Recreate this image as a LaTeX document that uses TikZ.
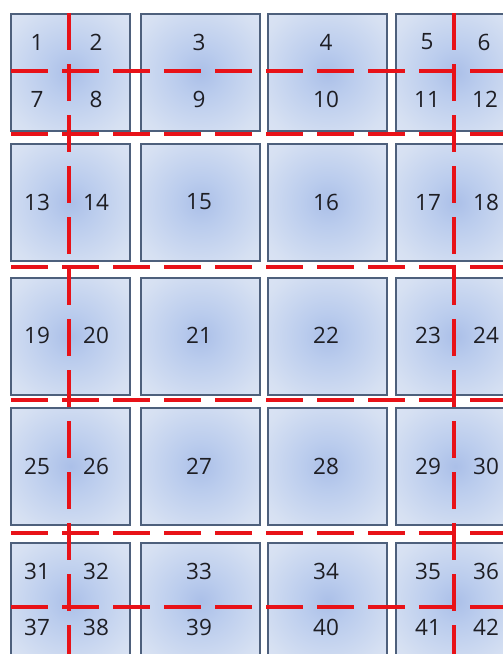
\documentclass[tikz,border=0pt]{standalone}
\usepackage{fontspec}
\setmainfont{Open Sans}
\pgfdeclareradialshading{boxshade}{\pgfpoint{0bp}{0bp}}{rgb(0bp)=(0.67,0.75,0.91); rgb(10bp)=(0.73,0.80,0.93); rgb(30bp)=(0.84,0.88,0.95); rgb(50bp)=(0.90,0.92,0.97)}
\definecolor{boxedge}{RGB}{78,96,124}
\definecolor{cutred}{RGB}{232,18,24}
\definecolor{numcol}{RGB}{30,30,36}
\tikzset{
  tile/.style={rectangle, draw=boxedge, line width=1.8pt, shading=boxshade, minimum width=119pt, minimum height=117pt, inner sep=0pt, anchor=north west},
  num/.style={font=\fontsize{22.5}{26}\selectfont, text=numcol, inner sep=0pt},
  cut/.style={draw=cutred, line width=4pt, dash pattern=on 36.5pt off 14.5pt}
}
\begin{document}
\begin{tikzpicture}[x=1pt,y=-1pt]
\clip (0,0) rectangle (503,654);
\fill[white] (0,0) rectangle (503,654);
% tiles
\foreach \r/\ty in {1/13,2/143,3/277,4/407,5/542}{
  \foreach \c/\tx in {1/10,2/140,3/267,4/395}{
    \node[tile] (t\r\c) at (\tx,\ty) {};
  }
}
% numbers row 1
\node[num] (n1) at (37,42) {1};
\node[num] (n2) at (96,42) {2};
\node[num] (n3) at (199,42) {3};
\node[num] (n4) at (326,42) {4};
\node[num] (n5) at (427,42) {5};
\node[num] (n6) at (484,42) {6};
\node[num] (n7) at (37,99) {7};
\node[num] (n8) at (96,99) {8};
\node[num] (n9) at (199,99) {9};
\node[num] (n10) at (326,99) {10};
\node[num] (n11) at (427,99) {11};
\node[num] (n12) at (485,99) {12};
% rows 2-4
\foreach \y/\a/\b/\c/\d/\e/\f in {202/13/14/15/16/17/18, 335/19/20/21/22/23/24, 466/25/26/27/28/29/30}{
  \node[num] (n\a) at (37,\y) {\a};
  \node[num] (n\b) at (96,\y) {\b};
  \node[num] (n\c) at (199,\y) {\c};
  \node[num] (n\d) at (326,\y) {\d};
  \node[num] (n\e) at (428,\y) {\e};
  \node[num] (n\f) at (486,\y) {\f};
}
% row 5
\node[num] (n31) at (37,571) {31};
\node[num] (n32) at (96,571) {32};
\node[num] (n33) at (199,571) {33};
\node[num] (n34) at (326,571) {34};
\node[num] (n35) at (428,571) {35};
\node[num] (n36) at (486,571) {36};
\node[num] (n37) at (37,627) {37};
\node[num] (n38) at (96,627) {38};
\node[num] (n39) at (199,627) {39};
\node[num] (n40) at (326,627) {40};
\node[num] (n41) at (428,627) {41};
\node[num] (n42) at (486,627) {42};
% cut lines
\foreach \i/\y in {1/71,2/134,3/267,4/400,5/533,6/607}{
  \coordinate (hs\i) at (11,\y);
  \coordinate (he\i) at (520,\y);
  \path[cut] (hs\i) -- (he\i);
}
\foreach \i/\x in {1/69,2/454}{
  \coordinate (vs\i) at (\x,13);
  \coordinate (ve\i) at (\x,670);
  \path[cut] (vs\i) -- (ve\i);
}
\end{tikzpicture}
\end{document}
